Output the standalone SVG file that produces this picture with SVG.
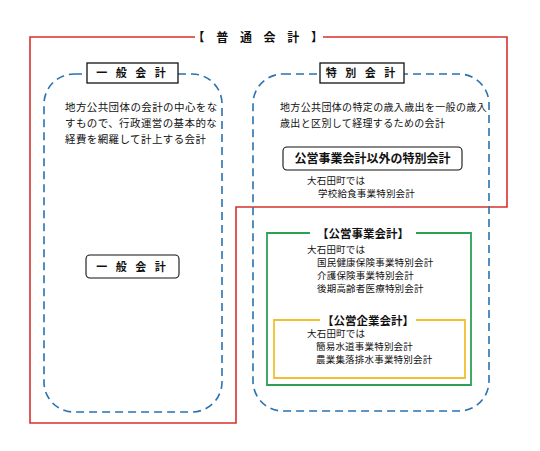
<svg xmlns="http://www.w3.org/2000/svg" width="540" height="451" viewBox="0 0 540 451">
<style>
text{font-family:"Noto Sans CJK JP","Noto Sans CJK SC",sans-serif;fill:#111;}
.dash{fill:none;stroke:#2a72b0;stroke-width:1.6;stroke-dasharray:8 5;}
.hdr{fill:#fff;stroke:#111;stroke-width:1.3;}
.rbox{fill:#fff;stroke:#111;stroke-width:1.1;}
.b{font-weight:bold;}
.t{font-size:10.5px;letter-spacing:0.4px;}
.r{font-size:10px;letter-spacing:0.35px;}
.s{font-size:9.5px;letter-spacing:0.2px;}
</style>
<rect width="540" height="451" fill="#fff"/>
<g id="connectors">
<polyline points="195,37 30,37 30,423 236,423 236,207 507,207 507,37 323,37" fill="none" stroke="#d8302c" stroke-width="1.6"/>
</g>
<g id="title">
<text x="260" y="41.5" text-anchor="middle" class="b" font-size="12" letter-spacing="4.5">【 普 通 会 計 】</text>
</g>
<g id="general">
<rect class="dash" x="44" y="74" width="178" height="338" rx="30"/>
<rect class="hdr" x="87" y="63" width="91" height="20"/>
<text x="132.5" y="77" text-anchor="middle" class="b" font-size="11" letter-spacing="3">一 般 会 計</text>
<text class="t" x="65" y="111">地方公共団体の会計の中心をな</text>
<text class="t" x="65" y="127">すもので、行政運営の基本的な</text>
<text class="t" x="65" y="143">経費を網羅して計上する会計</text>
<rect class="rbox" x="86" y="255" width="93" height="23" rx="4"/>
<text x="132.5" y="271" text-anchor="middle" class="b" font-size="11" letter-spacing="3">一 般 会 計</text>
</g>
<g id="special">
<rect class="dash" x="253" y="74" width="236" height="337" rx="30"/>
<rect class="hdr" x="320" y="63" width="84" height="20"/>
<text x="362" y="77" text-anchor="middle" class="b" font-size="11" letter-spacing="3">特 別 会 計</text>
<text class="r" x="280" y="111">地方公共団体の特定の歳入歳出を一般の歳入</text>
<text class="r" x="280" y="127">歳出と区別して経理するための会計</text>
</g>
<g id="other-special">
<rect class="rbox" x="283" y="147" width="179" height="23" rx="4"/>
<text x="372.5" y="163" text-anchor="middle" class="b" font-size="12">公営事業会計以外の特別会計</text>
<text class="s" x="307" y="184">大石田町では</text>
<text class="s" x="318" y="197">学校給食事業特別会計</text>
</g>
<g id="public-business">
<path d="M310,233 H267 V385 H471 V233 H416" fill="none" stroke="#2ea055" stroke-width="1.8"/>
<text x="363" y="237.5" text-anchor="middle" class="b" font-size="11.5">【公営事業会計】</text>
<text class="s" x="307" y="253">大石田町では</text>
<text class="s" x="317" y="266">国民健康保険事業特別会計</text>
<text class="s" x="317" y="279">介護保険事業特別会計</text>
<text class="s" x="317" y="292">後期高齢者医療特別会計</text>
</g>
<g id="public-enterprise">
<path d="M320,320 H274 V378 H465 V320 H416" fill="none" stroke="#f0c030" stroke-width="1.8"/>
<text x="368" y="324.5" text-anchor="middle" class="b" font-size="11.5">【公営企業会計】</text>
<text class="s" x="307" y="337">大石田町では</text>
<text class="s" x="316" y="350">簡易水道事業特別会計</text>
<text class="s" x="316" y="363">農業集落排水事業特別会計</text>
</g>
</svg>
